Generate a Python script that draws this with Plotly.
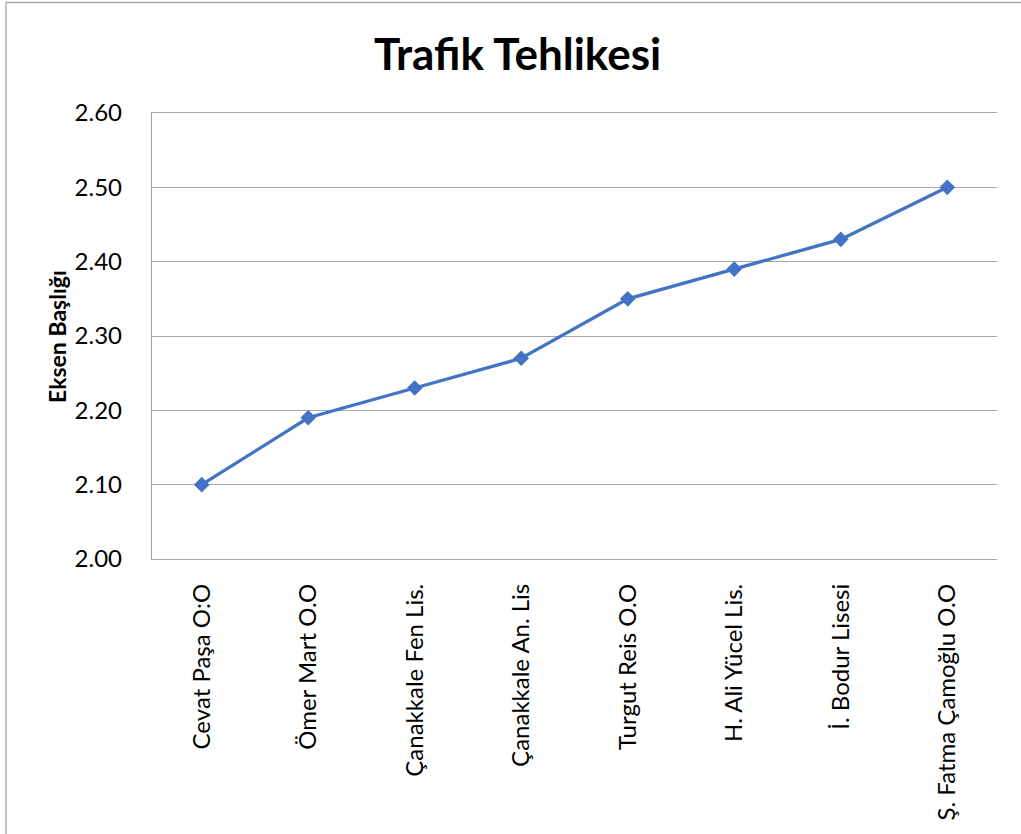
import plotly.graph_objects as go

categories = ["Cevat Paşa O:O", "Ömer Mart O.O", "Çanakkale Fen Lis.", "Çanakkale An. Lis",
              "Turgut Reis O.O", "H. Ali Yücel Lis.", "İ. Bodur Lisesi", "Ş. Fatma Çamoğlu O.O"]
values = [2.10, 2.19, 2.23, 2.27, 2.35, 2.39, 2.43, 2.50]
y_ticks = [2.00, 2.10, 2.20, 2.30, 2.40, 2.50, 2.60]
y_tick_labels = ["2.00", "2.10", "2.20", "2.30", "2.40", "2.50", "2.60"]
title_text = "Trafik Tehlikesi"
y_title = "Eksen Başlığı"

W, H = 1021, 834
L, R, T, B = 152, 1021 - 997, 113, 834 - 559
pw, ph = W - L - R, H - T - B

def px_x(p):
    return (p - L) / pw

def px_y(p):
    return (H - B - p) / ph

FONT = "Lato"
GRID = "#A6A6A6"

fig = go.Figure()
fig.add_trace(go.Scatter(
    x=categories, y=values, mode="lines+markers",
    line=dict(color="#4472C4", width=3.3),
    marker=dict(symbol="diamond", size=12, color="#4472C4"),
    showlegend=False,
))

fig.update_layout(
    width=W, height=H,
    margin=dict(l=L, r=R, t=T, b=B, autoexpand=False),
    paper_bgcolor="white", plot_bgcolor="white",
    font=dict(family=FONT, color="black"),
    xaxis=dict(
        type="category", tickangle=-90, showgrid=False, zeroline=False,
        showline=True, linecolor=GRID, linewidth=1.3, mirror=True,
        ticks="", tickfont=dict(size=24, family=FONT),
        ticklabelstandoff=14, automargin=False,
    ),
    yaxis=dict(
        range=[2.0, 2.6], tickvals=y_ticks, ticktext=y_tick_labels,
        showgrid=True, gridcolor=GRID, gridwidth=1.3, zeroline=False,
        showline=True, linecolor=GRID, linewidth=1.3, mirror=False,
        ticks="", tickfont=dict(size=24, family=FONT), ticklabelstandoff=24,
        automargin=False,
    ),
    annotations=[
        dict(text="<b>" + title_text + "</b>", x=px_x(517), y=px_y(53),
             xref="paper", yref="paper", showarrow=False,
             font=dict(size=44, family=FONT, color="black"),
             xanchor="center", yanchor="middle"),
        dict(text="<b>" + y_title + "</b>", x=px_x(57), y=px_y(337),
             xref="paper", yref="paper", showarrow=False, textangle=-90,
             font=dict(size=23, family=FONT, color="black"),
             xanchor="center", yanchor="middle"),
    ],
    shapes=[
        dict(type="line", xref="paper", yref="paper",
             x0=px_x(6), x1=px_x(6), y0=px_y(2.5), y1=px_y(834),
             line=dict(color=GRID, width=1.3)),
        dict(type="line", xref="paper", yref="paper",
             x0=px_x(6), x1=px_x(1021), y0=px_y(2.5), y1=px_y(2.5),
             line=dict(color=GRID, width=1.3)),
    ],
)

fig.write_html("out.html", config={"displayModeBar": False},
               post_script="document.body.style.margin='0';document.body.style.padding='0';")
